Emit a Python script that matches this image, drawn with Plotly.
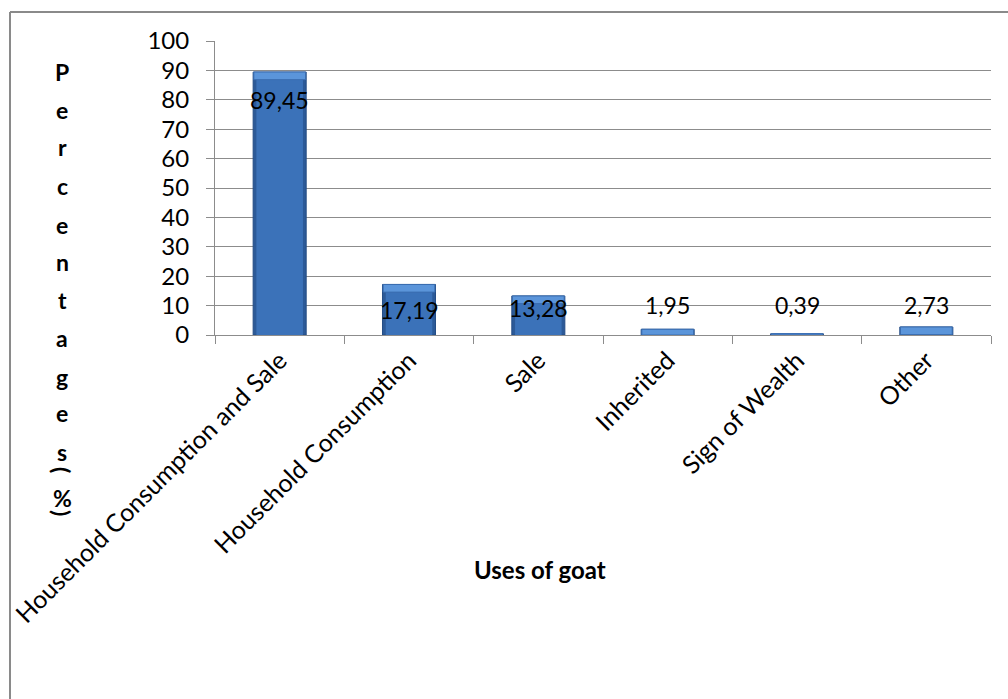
import plotly.graph_objects as go

# Uses of goat survey results (percent of respondents)
categories = [
    "Household Consumption and Sale",
    "Household Consumption",
    "Sale",
    "Inherited",
    "Sign of Wealth",
    "Other",
]
percentages = [89.45, 17.19, 13.28, 1.95, 0.39, 2.73]
value_labels = ["89,45", "17,19", "13,28", "1,95", "0,39", "2,73"]
y_ticks = [0, 10, 20, 30, 40, 50, 60, 70, 80, 90, 100]

# vertical placement of the value labels (data units)
label_y = [80, 8.5, 9.2, 10.2, 10.2, 10.2]

FONT = "Lato"
GRID = "#8c8c8c"
BEVEL = 2.6  # depth of the lighter top facet, in data units

fig = go.Figure()
# dark outer body
fig.add_trace(go.Bar(
    x=categories, y=percentages, width=0.41,
    marker=dict(color="#2c5a98", line=dict(color="#244d85", width=1)),
    hoverinfo="skip", showlegend=False,
))
# lighter inner face
fig.add_trace(go.Bar(
    x=categories, y=percentages, width=0.36,
    marker=dict(color="#3b72b9", line=dict(width=0)),
    hoverinfo="skip", showlegend=False,
))
# top highlight facet
top_base = [max(v - BEVEL, 0) for v in percentages]
top_h = [v - b for v, b in zip(percentages, top_base)]
fig.add_trace(go.Bar(
    x=categories, y=top_h, base=top_base, width=0.40,
    marker=dict(color="#5b95da", line=dict(color="#3a6db0", width=1)),
    hoverinfo="skip", showlegend=False,
))

for cat, lab, ly in zip(categories, value_labels, label_y):
    fig.add_annotation(x=cat, y=ly, text=lab, showarrow=False,
                       font=dict(family=FONT, size=23, color="black"),
                       xanchor="center", yanchor="middle")

# stacked axis title, one character per line; brackets turned a quarter turn
title_chars = ["P", "e", "r", "c", "e", "n", "t", "a", "g", "e", "s", "(", "%", ")"]
title_px = [72, 110, 147, 186, 225, 262, 300, 338, 377, 413, 452, 470, 498, 513]
for ch, py in zip(title_chars, title_px):
    ang = 90 if ch in "()" else 0
    fig.add_annotation(xref="paper", yref="paper",
                       x=(62 - 215) / 776, y=(335 - py) / 294,
                       text="<b>%s</b>" % ch, showarrow=False, textangle=ang,
                       font=dict(family=FONT, size=23, color="black"),
                       xanchor="center", yanchor="middle")

fig.add_annotation(xref="paper", yref="paper", x=(540 - 215) / 776, y=(335 - 569) / 294,
                   text="<b>Uses of goat</b>", showarrow=False,
                   font=dict(family=FONT, size=24, color="black"),
                   xanchor="center", yanchor="middle")

# outer frame (left and top edges)
x_left = (10 - 215) / 776
y_top = (335 - 12) / 294
fig.add_shape(type="line", xref="paper", yref="paper", x0=x_left, x1=x_left,
              y0=y_top, y1=(335 - 710) / 294, line=dict(color="#8a8a8a", width=2))
fig.add_shape(type="line", xref="paper", yref="paper", x0=x_left, x1=(1015 - 215) / 776,
              y0=y_top, y1=y_top, line=dict(color="#8a8a8a", width=2))

fig.update_layout(
    width=1008, height=699,
    margin=dict(l=215, r=17, t=41, b=364, autoexpand=False),
    paper_bgcolor="white", plot_bgcolor="white",
    barmode="overlay",
    font=dict(family=FONT, size=24, color="black"),
)
fig.update_xaxes(
    type="category", tickangle=-45, tickson="boundaries",
    ticks="outside", ticklen=8, tickcolor=GRID,
    showline=True, linecolor=GRID, linewidth=1,
    showgrid=False, tickfont=dict(family=FONT, size=25),
)
fig.update_yaxes(
    range=[0, 100], tickvals=y_ticks,
    ticks="outside", ticklen=8, tickcolor=GRID,
    showline=True, linecolor=GRID, linewidth=1,
    showgrid=True, gridcolor=GRID, gridwidth=1,
    zeroline=False, tickfont=dict(family=FONT, size=24),
    ticklabelstandoff=12,
)

fig.write_html("out.html")
